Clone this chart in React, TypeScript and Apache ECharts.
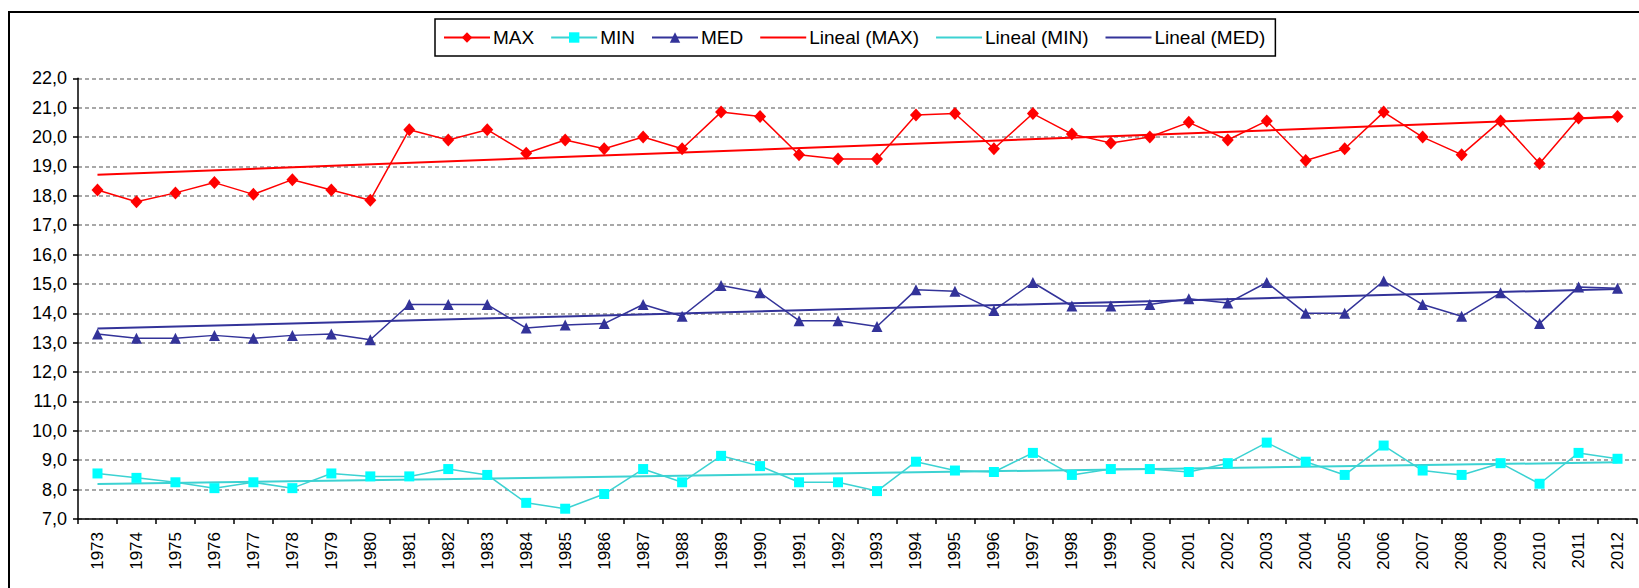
import React, { useEffect, useRef } from "react";
import * as echarts from "echarts";

const years = [
  "1973","1974","1975","1976","1977","1978","1979","1980","1981","1982",
  "1983","1984","1985","1986","1987","1988","1989","1990","1991","1992",
  "1993","1994","1995","1996","1997","1998","1999","2000","2001","2002",
  "2003","2004","2005","2006","2007","2008","2009","2010","2011","2012",
];

const maxValues = [
  18.2, 17.8, 18.1, 18.45, 18.05, 18.55, 18.2, 17.85, 20.25, 19.9,
  20.25, 19.45, 19.9, 19.6, 20.0, 19.6, 20.85, 20.7, 19.4, 19.25,
  19.25, 20.75, 20.8, 19.6, 20.8, 20.1, 19.8, 20.0, 20.5, 19.9,
  20.55, 19.2, 19.6, 20.85, 20.0, 19.4, 20.55, 19.1, 20.65, 20.7,
];

const minValues = [
  8.55, 8.4, 8.25, 8.05, 8.25, 8.05, 8.55, 8.45, 8.45, 8.7,
  8.5, 7.55, 7.35, 7.85, 8.7, 8.25, 9.15, 8.8, 8.25, 8.25,
  7.95, 8.95, 8.65, 8.6, 9.25, 8.5, 8.7, 8.7, 8.6, 8.9,
  9.6, 8.95, 8.5, 9.5, 8.65, 8.5, 8.9, 8.2, 9.25, 9.05,
];

const medValues = [
  13.3, 13.15, 13.15, 13.25, 13.15, 13.25, 13.3, 13.1, 14.3, 14.3,
  14.3, 13.5, 13.6, 13.65, 14.3, 13.9, 14.95, 14.7, 13.75, 13.75,
  13.55, 14.8, 14.75, 14.1, 15.05, 14.25, 14.25, 14.3, 14.5, 14.35,
  15.05, 14.0, 14.0, 15.1, 14.3, 13.9, 14.7, 13.65, 14.9, 14.85,
];

// Trend line endpoints (first year, last year)
const trendMaxEnds = [18.72, 20.68];
const trendMinEnds = [8.19, 8.93];
const trendMedEnds = [13.48, 14.83];

const FONT = "'Liberation Sans', Arial, sans-serif";

function trendData(ends: number[]) {
  return [
    [years[0], ends[0]],
    [years[years.length - 1], ends[1]],
  ];
}

export default function App() {
  const ref = useRef<HTMLDivElement>(null);

  useEffect(() => {
    document.body.style.margin = "0";
    if (!ref.current) return;
    const chart = echarts.init(ref.current, undefined, { renderer: "svg" });
    const option: any = {
      animation: false,
      backgroundColor: "#ffffff",
      textStyle: { fontFamily: FONT, color: "#000" },
      graphic: [
        {
          type: "rect",
          shape: { x: 9, y: 12, width: 1700, height: 700 },
          style: { fill: "none", stroke: "#000", lineWidth: 2 },
          silent: true,
          z: 0,
        },
      ],
      legend: {
        left: 435,
        top: 19,
        padding: [9, 10, 9, 8],
        itemGap: 16,
        itemWidth: 46,
        itemHeight: 13,
        borderColor: "#000",
        borderWidth: 1.5,
        backgroundColor: "#fff",
        textStyle: { fontFamily: FONT, fontSize: 19, color: "#000", padding: [0, 0, 0, -2] },
        data: [
          { name: "MAX" },
          { name: "MIN" },
          { name: "MED" },
          { name: "Lineal (MAX)", itemStyle: { opacity: 0 } },
          { name: "Lineal (MIN)", itemStyle: { opacity: 0 } },
          { name: "Lineal (MED)", itemStyle: { opacity: 0 } },
        ],
      },
      grid: { left: 78, right: 2, top: 78.3, bottom: 69, containLabel: false },
      xAxis: {
        type: "category",
        data: years,
        boundaryGap: true,
        axisLine: { lineStyle: { color: "#000", width: 1.5 } },
        axisTick: { show: true, length: 5, lineStyle: { color: "#000", width: 1.5 } },
        axisLabel: {
          rotate: 90,
          interval: 0,
          margin: 13,
          fontSize: 17,
          fontFamily: FONT,
          color: "#000",
        },
        splitLine: { show: false },
      },
      yAxis: {
        type: "value",
        min: 7,
        max: 22,
        interval: 1,
        axisLine: { show: true, lineStyle: { color: "#000", width: 1.5 } },
        axisTick: { show: true, length: 5, lineStyle: { color: "#000", width: 1.5 } },
        axisLabel: {
          margin: 11,
          fontSize: 18,
          fontFamily: FONT,
          color: "#000",
          formatter: (v: number) => v.toFixed(1).replace(".", ","),
        },
        splitLine: {
          show: true,
          lineStyle: { color: "#8c8c8c", width: 1.5, type: [4, 3] },
        },
      },
      series: [
        {
          name: "MAX",
          type: "line",
          data: maxValues,
          symbol: "diamond",
          symbolSize: [12, 13],
          showAllSymbol: true,
          itemStyle: { color: "#FF0000" },
          lineStyle: { color: "#FF0000", width: 1.5 },
          z: 3,
        },
        {
          name: "MIN",
          type: "line",
          data: minValues,
          symbol: "rect",
          symbolSize: 10,
          showAllSymbol: true,
          itemStyle: { color: "#00FFFF" },
          lineStyle: { color: "#3CD2D2", width: 1.5 },
          z: 3,
        },
        {
          name: "MED",
          type: "line",
          data: medValues,
          symbol: "triangle",
          symbolSize: 11,
          showAllSymbol: true,
          itemStyle: { color: "#333399" },
          lineStyle: { color: "#333399", width: 1.5 },
          z: 3,
        },
        {
          name: "Lineal (MAX)",
          type: "line",
          data: trendData(trendMaxEnds),
          symbol: "none",
          lineStyle: { color: "#FF0000", width: 2 },
          itemStyle: { color: "#FF0000" },
          z: 2,
        },
        {
          name: "Lineal (MIN)",
          type: "line",
          data: trendData(trendMinEnds),
          symbol: "none",
          lineStyle: { color: "#3CD2D2", width: 2 },
          itemStyle: { color: "#3CD2D2" },
          z: 2,
        },
        {
          name: "Lineal (MED)",
          type: "line",
          data: trendData(trendMedEnds),
          symbol: "none",
          lineStyle: { color: "#333399", width: 2 },
          itemStyle: { color: "#333399" },
          z: 2,
        },
      ],
    };
    chart.setOption(option);
    return () => {
      chart.dispose();
    };
  }, []);

  return <div ref={ref} style={{ width: 1639, height: 588 }} />;
}
